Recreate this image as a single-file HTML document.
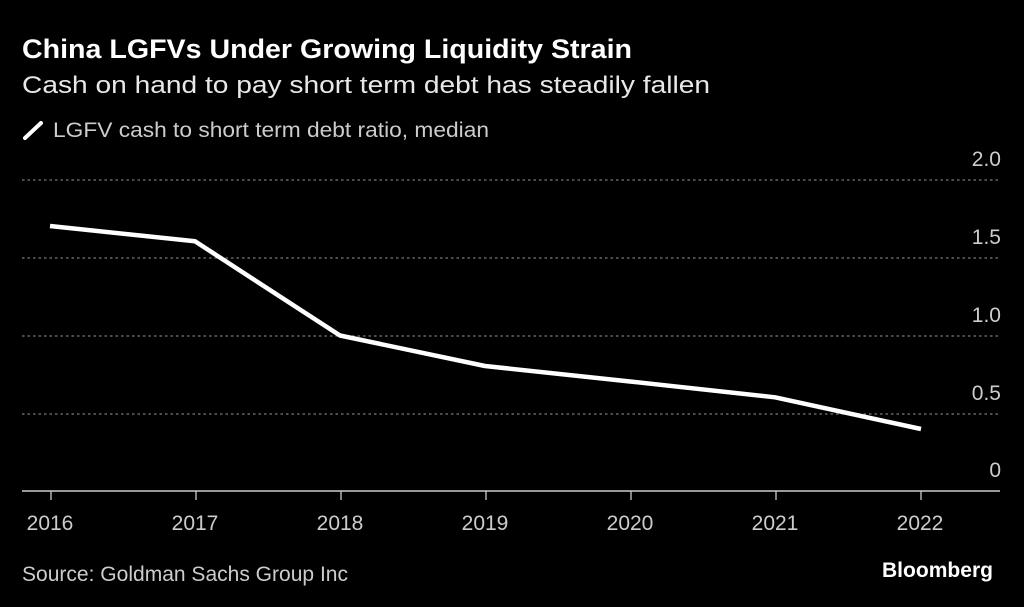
<!DOCTYPE html>
<html>
<head>
<meta charset="utf-8">
<style>
  html, body { margin: 0; padding: 0; background: #000; }
  body { width: 1024px; height: 607px; overflow: hidden; }
  svg { display: block; }
  text { font-family: "Liberation Sans", sans-serif; }
</style>
</head>
<body>
<svg width="1024" height="607" viewBox="0 0 1024 607" xmlns="http://www.w3.org/2000/svg">
  <rect x="0" y="0" width="1024" height="607" fill="#000"/>

  <!-- Title -->
  <text x="22" y="58" font-size="26.5" font-weight="bold" fill="#ffffff" textLength="610" lengthAdjust="spacingAndGlyphs">China LGFVs Under Growing Liquidity Strain</text>
  <!-- Subtitle -->
  <text x="22" y="93" font-size="24" fill="#e8e8e8" textLength="688" lengthAdjust="spacingAndGlyphs">Cash on hand to pay short term debt has steadily fallen</text>

  <!-- Legend -->
  <line x1="25" y1="138" x2="41" y2="123" stroke="#ffffff" stroke-width="4" stroke-linecap="round"/>
  <text x="53" y="137" font-size="21" fill="#cccccc" textLength="436" lengthAdjust="spacingAndGlyphs">LGFV cash to short term debt ratio, median</text>

  <!-- Grid lines -->
  <g stroke="#7a7a7a" stroke-width="1.3" stroke-dasharray="2.5 3">
    <line x1="22" y1="180" x2="999" y2="180"/>
    <line x1="22" y1="258" x2="999" y2="258"/>
    <line x1="22" y1="336" x2="999" y2="336"/>
    <line x1="22" y1="414" x2="999" y2="414"/>
  </g>

  <!-- Y labels -->
  <g font-size="21" fill="#cccccc" text-anchor="end">
    <text x="1001" y="166">2.0</text>
    <text x="1001" y="244">1.5</text>
    <text x="1001" y="322">1.0</text>
    <text x="1001" y="400">0.5</text>
    <text x="1001" y="477">0</text>
  </g>

  <!-- X axis -->
  <line x1="22" y1="491" x2="1000" y2="491" stroke="#cccccc" stroke-width="1.6"/>
  <g stroke="#cccccc" stroke-width="1.3">
    <line x1="51" y1="491" x2="51" y2="500"/>
    <line x1="196" y1="491" x2="196" y2="500"/>
    <line x1="341" y1="491" x2="341" y2="500"/>
    <line x1="486" y1="491" x2="486" y2="500"/>
    <line x1="631" y1="491" x2="631" y2="500"/>
    <line x1="776" y1="491" x2="776" y2="500"/>
    <line x1="921" y1="491" x2="921" y2="500"/>
  </g>
  <g font-size="21" fill="#cccccc" text-anchor="middle">
    <text x="50" y="530">2016</text>
    <text x="195" y="530">2017</text>
    <text x="340" y="530">2018</text>
    <text x="485" y="530">2019</text>
    <text x="630" y="530">2020</text>
    <text x="775" y="530">2021</text>
    <text x="920" y="530">2022</text>
  </g>

  <!-- Data line -->
  <polyline points="50,226 195,241.3 340,335.5 485,366 630,381.5 775,397.3 921,429"
    fill="none" stroke="#ffffff" stroke-width="4.5" stroke-linejoin="round" stroke-linecap="butt"/>

  <!-- Footer -->
  <text x="22" y="581" font-size="21" fill="#cccccc" textLength="326" lengthAdjust="spacingAndGlyphs">Source: Goldman Sachs Group Inc</text>
  <text x="882" y="577" font-size="21" font-weight="bold" fill="#ffffff" textLength="111" lengthAdjust="spacingAndGlyphs">Bloomberg</text>
</svg>
</body>
</html>
